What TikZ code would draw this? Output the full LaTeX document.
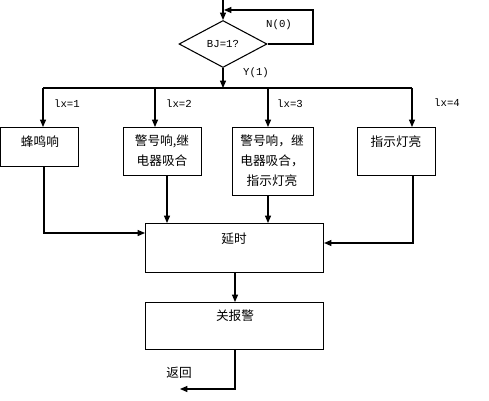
\documentclass[tikz,border=0pt]{standalone}
\usepackage{fontspec}
\newfontfamily\cjk{Noto Sans CJK SC}
\newfontfamily\monof{Liberation Mono}
\usetikzlibrary{shapes.geometric,arrows.meta}
\begin{document}
\begin{tikzpicture}[x=0.75pt,y=-0.75pt,
  line width=0.8pt,
  arr/.style={-{Triangle[length=5.5pt,width=4.5pt]}},
  boxn/.style={draw,rectangle,inner sep=0pt,anchor=north west},
  cjkt/.style={font=\cjk\fontsize{9.5}{15}\selectfont,inner sep=0pt,align=center},
  lab/.style={font=\monof\fontsize{8}{10}\selectfont,inner sep=0pt}]
\useasboundingbox (0,0) rectangle (489,400);
% decision
\node[draw,diamond,minimum width=66pt,minimum height=35.25pt,inner sep=0pt,font=\monof\fontsize{8}{10}\selectfont] (dia) at (223,44) {BJ=1?};
\coordinate (top) at (223,0);
\coordinate (loopc) at (313,10);
\coordinate (loopend) at (224,10);
\draw[arr] (top) -- (dia.north);
\draw[arr] (dia.east) -| (loopc) -- (loopend);
\node[lab] (nlab) at (279,25) {N(0)};
\node[lab] (ylab) at (256,73) {Y(1)};
% bus
\coordinate (busC) at (223,88);
\coordinate (busL) at (43,88);
\coordinate (busR) at (412,88);
\coordinate (bus2) at (155,88);
\coordinate (bus3) at (268,88);
\draw[arr] (dia.south) -- (busC);
\draw (busL) -- (busR);
% boxes
\node[boxn,minimum width=58.5pt,minimum height=29.25pt] (b1) at (0,127) {};
\node[boxn,minimum width=58.5pt,minimum height=36pt] (b2) at (123,127) {};
\node[boxn,minimum width=60.75pt,minimum height=51pt] (b3) at (232,127) {};
\node[boxn,minimum width=58.5pt,minimum height=36pt] (b4) at (357,127) {};
\node[boxn,minimum width=133.5pt,minimum height=36.75pt] (del) at (145,223) {};
\node[boxn,minimum width=133.5pt,minimum height=35.25pt] (alm) at (145,302) {};
% texts
\node[cjkt] (t1) at (40,142) {蜂鸣响};
\node[cjkt,anchor=north] (t2) at (162,134) {警号响,继\\电器吸合};
\node[cjkt,anchor=north] (t3) at (272,134) {警号响，继\\电器吸合，\\指示灯亮};
\node[cjkt] (t4) at (396,142) {指示灯亮};
\node[cjkt] (t5) at (234,239) {延时};
\node[cjkt] (t6) at (235,316) {关报警};
% labels
\node[lab] (l1) at (67,104) {lx=1};
\node[lab] (l2) at (179,104) {lx=2};
\node[lab] (l3) at (290,104) {lx=3};
\node[lab] (l4) at (447,103) {lx=4};
% bus arrows
\draw[arr] (busL) -- (busL |- b1.north);
\draw[arr] (bus2) -- (bus2 |- b2.north);
\draw[arr] (bus3) -- (bus3 |- b3.north);
\draw[arr] (busR) -- (busR |- b4.north);
% into delay
\coordinate (x1) at (44,233);
\coordinate (x2) at (167,0);
\coordinate (x3) at (268,0);
\coordinate (x4) at (413,243);
\draw[arr] (b1.south -| x1) -- (x1) -- (x1 -| del.west);
\draw[arr] (b2.south -| x2) -- (del.north -| x2);
\draw[arr] (b3.south -| x3) -- (del.north -| x3);
\draw[arr] (b4.south -| x4) -- (x4) -- (x4 -| del.east);
% delay to alarm
\coordinate (x5) at (235,389);
\coordinate (ret) at (180,389);
\draw[arr] (del.south -| x5) -- (alm.north -| x5);
\draw[arr] (alm.south -| x5) -- (x5) -- (ret);
\node[cjkt] (t7) at (179,373) {返回};
\end{tikzpicture}
\end{document}
